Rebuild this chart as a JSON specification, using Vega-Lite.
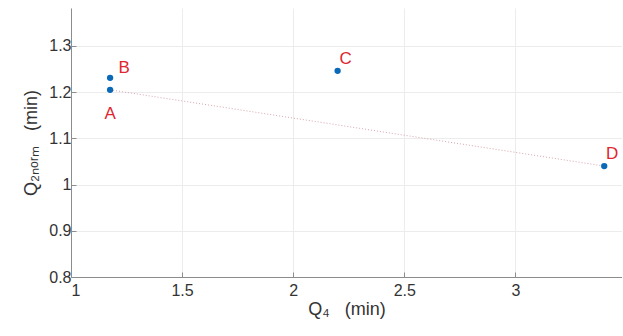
{
  "$schema": "https://vega.github.io/schema/vega-lite/v6.json",
  "width": 551,
  "height": 269,
  "autosize": {"type": "none"},
  "padding": {"left": 71, "top": 8, "right": 0, "bottom": 59},
  "background": "white",
  "config": {
    "view": {"stroke": null},
    "font": "Liberation Sans",
    "axis": {
      "labelFont": "Liberation Sans",
      "titleFont": "Liberation Sans",
      "labelFontSize": 16,
      "titleFontSize": 18,
      "titleFontWeight": "normal",
      "labelColor": "#333333",
      "titleColor": "#333333",
      "domainColor": "#8c8c8c",
      "tickColor": "#8c8c8c",
      "gridColor": "#ececec",
      "tickSize": -5
    }
  },
  "data": {
    "values": [
      {"q4": 1.176, "q2": 1.205, "label": "A"},
      {"q4": 1.176, "q2": 1.231, "label": "B"},
      {"q4": 2.2, "q2": 1.246, "label": "C"},
      {"q4": 3.4, "q2": 1.040, "label": "D"}
    ]
  },
  "encoding": {
    "x": {
      "field": "q4", "type": "quantitative",
      "scale": {"domain": [1, 3.48], "nice": false, "zero": false},
      "axis": {"values": [1, 1.5, 2, 2.5, 3], "format": ".2~f", "title": "Q₄\u00a0\u00a0\u00a0(min)", "titlePadding": 2, "labelPadding": 10}
    },
    "y": {
      "field": "q2", "type": "quantitative",
      "scale": {"domain": [0.8, 1.382], "nice": false, "zero": false},
      "axis": {"values": [0.8, 0.9, 1, 1.1, 1.2, 1.3], "format": ".2~f", "title": "Q₂ₙₒᵣₘ\u00a0\u00a0\u00a0(min)", "titlePadding": 8, "labelPadding": 5}
    }
  },
  "layer": [
    {
      "transform": [{"filter": "datum.label === 'A' || datum.label === 'D'"}],
      "mark": {"type": "line", "color": "#d8a5ad", "strokeWidth": 1, "strokeDash": [1, 2]}
    },
    {
      "mark": {"type": "circle", "color": "#0a6ab8", "size": 40, "opacity": 1}
    },
    {
      "transform": [{"filter": "datum.label === 'A'"}],
      "mark": {"type": "text", "color": "#e0262f", "fontSize": 17, "dy": 24},
      "encoding": {"text": {"field": "label"}}
    },
    {
      "transform": [{"filter": "datum.label === 'B'"}],
      "mark": {"type": "text", "color": "#e0262f", "fontSize": 17, "dx": 14, "dy": -10},
      "encoding": {"text": {"field": "label"}}
    },
    {
      "transform": [{"filter": "datum.label === 'C' || datum.label === 'D'"}],
      "mark": {"type": "text", "color": "#e0262f", "fontSize": 17, "dx": 8, "dy": -12},
      "encoding": {"text": {"field": "label"}}
    }
  ]
}
